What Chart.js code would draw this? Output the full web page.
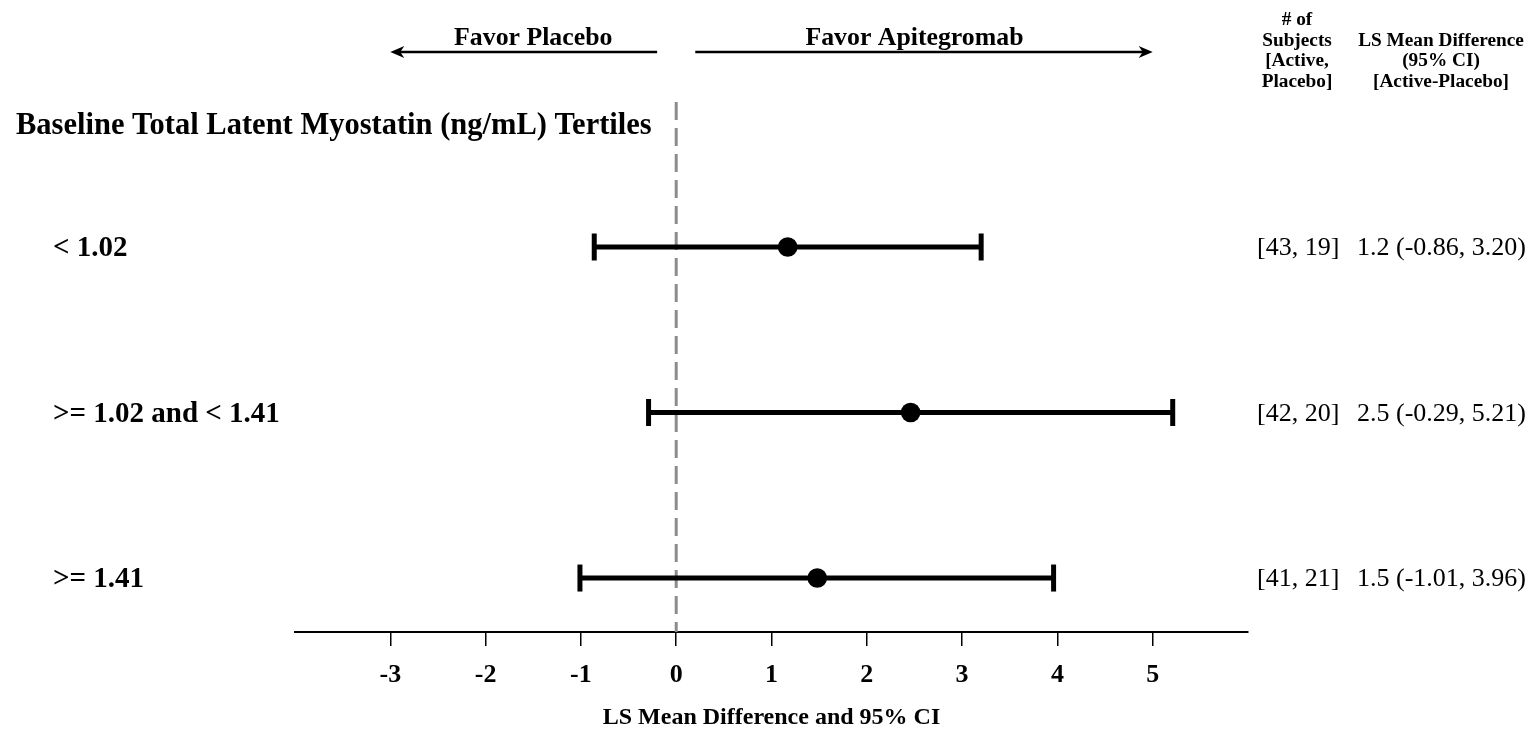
<!DOCTYPE html>
<html>
<head>
<meta charset="utf-8">
<title>Forest plot</title>
<script src="https://cdn.jsdelivr.net/npm/chart.js@4.4.1/dist/chart.umd.min.js"></script>
<style>
  html, body { margin: 0; padding: 0; background: #fff; }
  #wrap { width: 1535px; height: 731px; }
</style>
</head>
<body>
<div id="wrap"><canvas id="forest" width="1535" height="731"></canvas></div>
<script>
// subgroups, top to bottom
const heading = 'Baseline Total Latent Myostatin (ng/mL) Tertiles';
const groups = ['< 1.02', '>= 1.02 and < 1.41', '>= 1.41'];
const nActive = [43, 42, 41];
const nPlacebo = [19, 20, 21];
const lsMean = [1.17, 2.46, 1.48];
const ciLower = [-0.86, -0.29, -1.01];
const ciUpper = [3.20, 5.21, 3.96];
const xTicks = [-3, -2, -1, 0, 1, 2, 3, 4, 5];

const serif = '"Liberation Serif", "Times New Roman", serif';
const rows = groups.map((g, i) => i + 1);
const yMin = 0.124, yMax = 3.326;

// --- error bars: horizontal line with vertical caps at both ends ---
const ciSets = rows.map((r, i) => ({
  data: [{x: ciLower[i], y: r}, {x: ciUpper[i], y: r}],
  showLine: true,
  borderColor: '#000',
  borderWidth: 5,
  pointStyle: 'line',
  pointRotation: 90,
  pointRadius: 13.5,
  pointBorderWidth: 5,
  pointBorderColor: '#000',
  order: 1
}));

// --- headings, labels, table columns, arrows ---
const textLayer = {
  id: 'textLayer',
  afterDraw(chart) {
    const {ctx} = chart;
    const xs = chart.scales.x, ys = chart.scales.y;
    ctx.save();
    ctx.fillStyle = '#000';
    ctx.strokeStyle = '#000';
    ctx.textBaseline = 'alphabetic';

    ctx.textAlign = 'left';
    ctx.font = `bold 30.5px ${serif}`;
    ctx.fillText(heading, 16, 134);
    ctx.font = `bold 29px ${serif}`;
    groups.forEach((g, i) => ctx.fillText(g, 53, ys.getPixelForValue(rows[i]) + 9));

    ctx.font = `26px ${serif}`;
    rows.forEach((r, i) => {
      const py = ys.getPixelForValue(r) + 8;
      ctx.fillText(`[${nActive[i]}, ${nPlacebo[i]}]`, 1257, py);
      ctx.fillText(`${lsMean[i].toFixed(1)} (${ciLower[i].toFixed(2)}, ${ciUpper[i].toFixed(2)})`, 1357, py);
    });

    ctx.textAlign = 'center';
    ctx.font = `bold 19.3px ${serif}`;
    ['# of', 'Subjects', '[Active,', 'Placebo]'].forEach((t, k) => ctx.fillText(t, 1297, 25 + k * 20.5));
    ['LS Mean Difference', '(95% CI)', '[Active-Placebo]'].forEach((t, k) => ctx.fillText(t, 1441, 45.5 + k * 20.5));

    ctx.font = `bold 25.8px ${serif}`;
    ctx.fillText('Favor Placebo', xs.getPixelForValue(-1.5), 45);
    ctx.fillText('Favor Apitegromab', xs.getPixelForValue(2.5), 45);

    const arrow = (from, to) => {
      const x0 = xs.getPixelForValue(from), x1 = xs.getPixelForValue(to);
      const dir = Math.sign(x1 - x0), ay = 52;
      ctx.lineWidth = 2.5;
      ctx.beginPath();
      ctx.moveTo(x0, ay);
      ctx.lineTo(x1 - dir * 8, ay);
      ctx.stroke();
      ctx.beginPath();
      ctx.moveTo(x1, ay);
      ctx.lineTo(x1 - dir * 14, ay - 6);
      ctx.lineTo(x1 - dir * 10, ay);
      ctx.lineTo(x1 - dir * 14, ay + 6);
      ctx.closePath();
      ctx.fill();
    };
    arrow(-0.2, -3);
    arrow(0.2, 5);
    ctx.restore();
  }
};

new Chart(document.getElementById('forest'), {
  type: 'scatter',
  data: {
    datasets: [
      {
        // point estimates
        data: rows.map((r, i) => ({x: lsMean[i], y: r})),
        pointStyle: 'circle',
        pointRadius: 9.8,
        backgroundColor: '#000',
        borderWidth: 0,
        order: 0
      },
      ...ciSets,
      {
        // no-effect reference line
        data: [{x: 0, y: yMin}, {x: 0, y: yMax}],
        showLine: true,
        borderColor: '#8c8c8c',
        borderWidth: 3,
        borderDash: [18, 8],
        pointRadius: 0,
        order: 2
      }
    ]
  },
  options: {
    responsive: false,
    animation: false,
    events: [],
    layout: { padding: { left: 295, right: 287, top: 102, bottom: 0 } },
    plugins: { legend: { display: false }, tooltip: { enabled: false } },
    scales: {
      x: {
        type: 'linear',
        min: -4,
        max: 6,
        afterBuildTicks: s => { s.ticks = xTicks.map(v => ({value: v})); },
        afterFit: s => { s.height = 99; },
        grid: { drawOnChartArea: false, drawTicks: true, tickLength: 14, color: '#000', lineWidth: 1.5 },
        border: { display: true, color: '#000', width: 2 },
        ticks: { color: '#000', padding: 14, maxRotation: 0, font: { family: serif, size: 26, weight: 'bold' } },
        title: {
          display: true,
          text: 'LS Mean Difference and 95% CI',
          color: '#000',
          font: { family: serif, size: 24, weight: 'bold', lineHeight: 1 },
          padding: { top: 0, bottom: 1 }
        }
      },
      y: { type: 'linear', display: false, reverse: true, min: yMin, max: yMax }
    }
  },
  plugins: [textLayer]
});
</script>
</body>
</html>
